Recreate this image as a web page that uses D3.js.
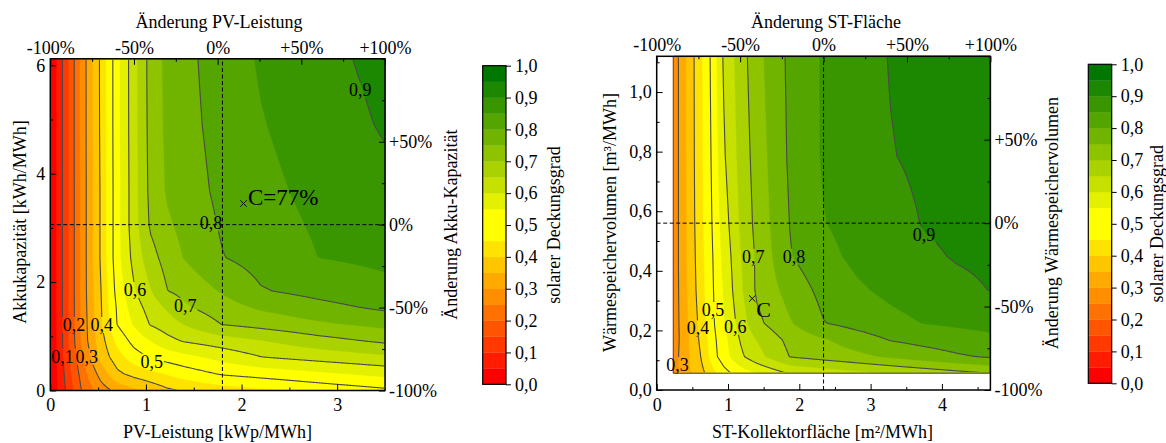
<!DOCTYPE html>
<html lang="de">
<head>
<meta charset="utf-8">
<title>Solarer Deckungsgrad</title>
<script src="https://cdn.jsdelivr.net/npm/d3@7/dist/d3.min.js"></script>
<style>
  html, body { margin: 0; padding: 0; background: #fff; }
  svg text { font-family: "Liberation Serif", "Times New Roman", Times, serif; fill: #000; }
</style>
</head>
<body>
<svg id="chart" width="1166" height="443" viewBox="0 0 1166 443"></svg>
<script>
// ---------- PV power vs. battery capacity ----------
// grid nodes: PV power [kWp/MWh] and battery capacity [kWh/MWh]
const pvNodes   = [0, 0.175, 0.35, 0.525, 0.7, 0.875, 1.05, 1.225, 1.4, 1.8, 2.2, 2.8, 3.5];
const akkuNodes = [0, 0.306, 0.612, 0.918, 1.224, 1.53, 1.836, 2.448, 3.06, 3.672, 4.896, 6.12];
// solar fraction, one row per battery capacity (bottom to top)
const pvDeckung = [
  [0, 0.110, 0.214, 0.274, 0.314, 0.340, 0.365, 0.391, 0.404, 0.425, 0.441, 0.465, 0.490],
  [0, 0.121, 0.233, 0.318, 0.388, 0.416, 0.435, 0.454, 0.473, 0.505, 0.519, 0.540, 0.564],
  [0, 0.131, 0.257, 0.364, 0.429, 0.475, 0.506, 0.520, 0.534, 0.566, 0.598, 0.618, 0.640],
  [0, 0.136, 0.277, 0.377, 0.463, 0.518, 0.551, 0.584, 0.605, 0.627, 0.648, 0.681, 0.710],
  [0, 0.138, 0.278, 0.390, 0.502, 0.555, 0.604, 0.628, 0.652, 0.702, 0.718, 0.742, 0.764],
  [0, 0.138, 0.280, 0.393, 0.507, 0.575, 0.622, 0.657, 0.692, 0.729, 0.757, 0.784, 0.809],
  [0, 0.138, 0.282, 0.396, 0.519, 0.594, 0.647, 0.699, 0.716, 0.755, 0.796, 0.816, 0.837],
  [0, 0.138, 0.282, 0.404, 0.532, 0.617, 0.681, 0.722, 0.752, 0.798, 0.819, 0.850, 0.860],
  [0, 0.138, 0.282, 0.404, 0.532, 0.629, 0.708, 0.742, 0.765, 0.806, 0.830, 0.856, 0.873],
  [0, 0.138, 0.282, 0.404, 0.532, 0.629, 0.715, 0.756, 0.776, 0.812, 0.837, 0.863, 0.886],
  [0, 0.138, 0.283, 0.407, 0.533, 0.631, 0.719, 0.761, 0.783, 0.819, 0.847, 0.874, 0.905],
  [0, 0.138, 0.283, 0.408, 0.533, 0.632, 0.721, 0.763, 0.786, 0.825, 0.855, 0.884, 0.915]
];
const pvLabels = [
  {v: 0.1, x: 0.128, y: 0.624}, {v: 0.2, x: 0.248, y: 1.21}, {v: 0.3, x: 0.381, y: 0.624},
  {v: 0.4, x: 0.537, y: 1.21},  {v: 0.5, x: 1.06, y: 0.53},  {v: 0.6, x: 0.887, y: 1.855},
  {v: 0.7, x: 1.41, y: 1.56},   {v: 0.8, x: 1.68, y: 3.085}, {v: 0.9, x: 3.24, y: 5.54}
];
const pvReference = {x: 1.8, y: 3.06};
const pvCase = {x: 2.02, y: 3.45, text: "C=77%"};

// ---------- collector area vs. storage volume ----------
const stNodes  = [0.234, 0.351, 0.468, 0.585, 0.702, 0.819, 0.936, 1.17, 1.404, 1.872, 2.34, 2.808, 3.276, 3.744, 4.212, 4.68];
const volNodes = [0.056, 0.112, 0.168, 0.224, 0.336, 0.448, 0.56, 0.784, 1.12];
const stDeckung = [
  [0.27, 0.318, 0.347, 0.376, 0.407, 0.443, 0.480, 0.522, 0.552, 0.604, 0.620, 0.636, 0.652, 0.668, 0.684, 0.700],
  [0.27, 0.318, 0.352, 0.387, 0.434, 0.490, 0.526, 0.589, 0.632, 0.702, 0.720, 0.738, 0.757, 0.775, 0.793, 0.806],
  [0.27, 0.313, 0.355, 0.398, 0.447, 0.495, 0.532, 0.602, 0.651, 0.715, 0.745, 0.775, 0.802, 0.816, 0.828, 0.839],
  [0.27, 0.315, 0.360, 0.404, 0.454, 0.504, 0.543, 0.620, 0.687, 0.746, 0.798, 0.818, 0.836, 0.851, 0.858, 0.864],
  [0.27, 0.318, 0.366, 0.414, 0.462, 0.509, 0.553, 0.639, 0.708, 0.770, 0.815, 0.843, 0.861, 0.876, 0.890, 0.901],
  [0.27, 0.320, 0.370, 0.418, 0.465, 0.513, 0.563, 0.645, 0.709, 0.797, 0.836, 0.861, 0.877, 0.893, 0.903, 0.908],
  [0.27, 0.320, 0.372, 0.422, 0.469, 0.519, 0.574, 0.655, 0.716, 0.802, 0.848, 0.868, 0.885, 0.902, 0.909, 0.915],
  [0.27, 0.320, 0.374, 0.425, 0.472, 0.527, 0.592, 0.665, 0.723, 0.809, 0.855, 0.877, 0.898, 0.908, 0.917, 0.925],
  [0.27, 0.320, 0.375, 0.427, 0.475, 0.537, 0.605, 0.674, 0.734, 0.812, 0.855, 0.881, 0.902, 0.913, 0.922, 0.930]
];
const stLabels = [
  {v: 0.3, x: 0.29, y: 0.084},  {v: 0.4, x: 0.58, y: 0.207},  {v: 0.5, x: 0.79, y: 0.268},
  {v: 0.6, x: 1.10, y: 0.212},  {v: 0.7, x: 1.355, y: 0.447}, {v: 0.8, x: 1.925, y: 0.447},
  {v: 0.9, x: 3.749, y: 0.52}
];
const stReference = {x: 2.34, y: 0.56};
const stCase = {x: 1.34, y: 0.307, text: "C"};

// ---------- shared scale settings ----------
const lineLevels = [0.1, 0.2, 0.3, 0.4, 0.5, 0.6, 0.7, 0.8, 0.9];
const colorbarTicks = [0, 0.1, 0.2, 0.3, 0.4, 0.5, 0.6, 0.7, 0.8, 0.9, 1.0];
const pctTicks = [-100, -50, 0, 50, 100];
const pctMinor = [-75, -25, 25, 75];

const bandCount = 20;
const bandStep = 1 / bandCount;
// red -> yellow over the lower half, yellow -> dark green over the upper half
const bandColors = d3.range(bandCount).map(i => i < 10
  ? d3.rgb(255, Math.round(255 * i / 9), 0).formatHex()
  : d3.rgb(Math.round(255 * (19 - i) / 9), Math.round(120 + 135 * (19 - i) / 9), 0).formatHex());

const de = d3.formatLocale({decimal: ",", thousands: ".", grouping: [3], currency: ["", " €"]});
const fmt1 = de.format(".1f");
const fmtInt = de.format("d");
const fmtPct = d => (d > 0 ? "+" : "") + d + "%";

const svg = d3.select("#chart");
const defs = svg.append("defs");
const FONT = 18;

function bilinear(xs, ys, grid, x, y) {
  const i = Math.max(0, Math.min(xs.length - 2, d3.bisectRight(xs, x) - 1));
  const j = Math.max(0, Math.min(ys.length - 2, d3.bisectRight(ys, y) - 1));
  const tx = Math.max(0, Math.min(1, (x - xs[i]) / (xs[i + 1] - xs[i])));
  const ty = Math.max(0, Math.min(1, (y - ys[j]) / (ys[j + 1] - ys[j])));
  const a = grid[j][i], b = grid[j][i + 1], c = grid[j + 1][i], d = grid[j + 1][i + 1];
  return a * (1 - tx) * (1 - ty) + b * tx * (1 - ty) + c * (1 - tx) * ty + d * tx * ty;
}

function styleAxis(g) {
  g.attr("font-family", null).attr("font-size", null);
  g.select(".domain").remove();
  g.selectAll(".tick line").attr("stroke", "#000").attr("stroke-width", 1);
  g.selectAll(".tick text").attr("font-size", FONT).attr("fill", "#000");
}

function drawPanel(P) {
  const x = d3.scaleLinear().domain(P.xDomain).range(P.xRange);
  const y = d3.scaleLinear().domain(P.yDomain).range(P.yRange);
  const xPct = d3.scaleLinear().domain([-100, 100]).range(P.xRange);
  const yPct = d3.scaleLinear().domain([-100, 100]).range(P.yRange);

  // data region in pixels
  const dx0 = x(P.xs[0]), dx1 = x(P.xs[P.xs.length - 1]);
  const dyTop = y(P.ys[P.ys.length - 1]), dyBot = y(P.ys[0]);
  const nx = Math.round(dx1 - dx0), ny = Math.round(dyBot - dyTop);
  const sx = (dx1 - dx0) / nx, sy = (dyBot - dyTop) / ny;

  const values = new Float64Array(nx * ny);
  for (let j = 0; j < ny; j++) {
    const yy = y.invert(dyTop + (j + 0.5) * sy);
    for (let i = 0; i < nx; i++) {
      const xx = x.invert(dx0 + (i + 0.5) * sx);
      values[j * nx + i] = bilinear(P.xs, P.ys, P.grid, xx, yy);
    }
  }
  const contours = d3.contours().size([nx, ny]);
  const proj = d3.geoTransform({
    point(px, py) { this.stream.point(dx0 + px * sx, dyTop + py * sy); }
  });
  const path = d3.geoPath(proj);

  const g = svg.append("g");

  // filled bands
  const fills = g.append("g");
  fills.append("rect")
    .attr("x", dx0).attr("y", dyTop).attr("width", dx1 - dx0).attr("height", dyBot - dyTop)
    .attr("fill", bandColors[0]);
  for (let k = 1; k < bandCount; k++) {
    const t = +(k * bandStep).toFixed(2);
    fills.append("path")
      .attr("d", path(contours.contour(values, t)))
      .attr("fill", bandColors[k])
      .attr("stroke", bandColors[k]).attr("stroke-width", 0.3);
  }

  // contour lines, clipped slightly inside the data region so the region border is not stroked
  defs.append("clipPath").attr("id", P.id + "-clip")
    .append("rect")
    .attr("x", dx0 + 1).attr("y", dyTop + 1)
    .attr("width", dx1 - dx0 - 2).attr("height", dyBot - dyTop - 2);
  const mask = defs.append("mask").attr("id", P.id + "-mask")
    .attr("maskUnits", "userSpaceOnUse")
    .attr("x", 0).attr("y", 0).attr("width", 1166).attr("height", 443);
  mask.append("rect").attr("x", 0).attr("y", 0).attr("width", 1166).attr("height", 443).attr("fill", "#fff");

  const lines = g.append("g").attr("clip-path", `url(#${P.id}-clip)`)
    .append("g").attr("mask", `url(#${P.id}-mask)`);
  lineLevels.forEach(t => {
    lines.append("path")
      .attr("d", path(contours.contour(values, t)))
      .attr("fill", "none")
      .attr("stroke", "#4a4a4a")
      .attr("stroke-width", 1.1)
      .attr("stroke-linejoin", "round");
  });

  if (P.edgeLines) {
    g.append("path")
      .attr("d", `M${dx0},${dyTop}V${dyBot}H${dx1}`)
      .attr("fill", "none").attr("stroke", "#5a5a5a").attr("stroke-width", 1.1);
  }

  // contour labels
  const labelG = g.append("g");
  P.labels.forEach(L => {
    const t = labelG.append("text")
      .attr("x", x(L.x)).attr("y", y(L.y))
      .attr("text-anchor", "middle").attr("dominant-baseline", "central")
      .attr("font-size", FONT)
      .text(fmt1(L.v));
    const b = t.node().getBBox();
    mask.append("rect")
      .attr("x", b.x - 1).attr("y", b.y + 2).attr("width", b.width + 2).attr("height", b.height - 4)
      .attr("fill", "#000");
  });

  // reference dashed lines
  const [xl, xr] = P.xRange, [yb, yt] = P.yRange;
  g.append("line")
    .attr("x1", x(P.ref.x)).attr("x2", x(P.ref.x)).attr("y1", yb).attr("y2", yt)
    .attr("stroke", "#000").attr("stroke-width", 1).attr("stroke-dasharray", "4,2.5");
  g.append("line")
    .attr("x1", xl).attr("x2", xr).attr("y1", y(P.ref.y)).attr("y2", y(P.ref.y))
    .attr("stroke", "#000").attr("stroke-width", 1).attr("stroke-dasharray", "4,2.5");

  // case marker
  const cx = x(P.mark.x), cy = y(P.mark.y), r = 3.2;
  g.append("path")
    .attr("d", `M${cx - r},${cy - r}L${cx + r},${cy + r}M${cx - r},${cy + r}L${cx + r},${cy - r}`)
    .attr("stroke", "#000").attr("stroke-width", 1);
  g.append("text")
    .attr("x", cx + P.markDx).attr("y", cy + P.markDy)
    .attr("font-size", P.markSize)
    .text(P.mark.text);

  // axes (ticks point inwards)
  const bottom = g.append("g").attr("transform", `translate(0,${yb})`)
    .call(d3.axisBottom(x).tickValues(P.xTicks).tickFormat(fmtInt).tickSize(-6).tickPadding(8));
  styleAxis(bottom);
  g.append("g").attr("transform", `translate(0,${yb})`)
    .call(d3.axisBottom(x).tickValues(P.xMinor).tickFormat("").tickSize(-3)).call(styleAxis);
  const left = g.append("g").attr("transform", `translate(${xl},0)`)
    .call(d3.axisLeft(y).tickValues(P.yTicks).tickFormat(P.yFormat).tickSize(-6).tickPadding(5));
  styleAxis(left);
  g.append("g").attr("transform", `translate(${xl},0)`)
    .call(d3.axisLeft(y).tickValues(P.yMinor).tickFormat("").tickSize(-3)).call(styleAxis);
  const top = g.append("g").attr("transform", `translate(0,${yt})`)
    .call(d3.axisTop(xPct).tickValues(pctTicks).tickFormat(fmtPct).tickSize(-6).tickPadding(5));
  styleAxis(top);
  g.append("g").attr("transform", `translate(0,${yt})`)
    .call(d3.axisTop(xPct).tickValues(pctMinor).tickFormat("").tickSize(-3)).call(styleAxis);
  const right = g.append("g").attr("transform", `translate(${xr},0)`)
    .call(d3.axisRight(yPct).tickValues(pctTicks.slice(0, 4)).tickFormat(fmtPct).tickSize(-6).tickPadding(4));
  styleAxis(right);
  g.append("g").attr("transform", `translate(${xr},0)`)
    .call(d3.axisRight(yPct).tickValues(pctMinor.concat([100])).tickFormat("").tickSize(-3)).call(styleAxis);

  // frame
  g.append("rect")
    .attr("x", xl).attr("y", yt).attr("width", xr - xl).attr("height", yb - yt)
    .attr("fill", "none").attr("stroke", "#000").attr("stroke-width", 1.5);

  // axis titles
  const midY = (yb + yt) / 2;
  g.append("text").attr("x", P.topTitleX).attr("y", 28).attr("text-anchor", "middle")
    .attr("font-size", FONT).text(P.titles.top);
  g.append("text").attr("x", P.bottomTitleX).attr("y", 438).attr("text-anchor", "middle")
    .attr("font-size", FONT).text(P.titles.bottom);
  g.append("text")
    .attr("transform", `translate(${P.leftTitleX},${P.leftTitleY}) rotate(-90)`)
    .attr("text-anchor", "middle").attr("dominant-baseline", "central")
    .attr("font-size", FONT).text(P.titles.left);
  g.append("text")
    .attr("transform", `translate(${P.rightTitleX},${midY}) rotate(-90)`)
    .attr("text-anchor", "middle").attr("dominant-baseline", "central")
    .attr("font-size", FONT).text(P.titles.right);

  // colour bar
  const C = P.colorbar;
  const cb = d3.scaleLinear().domain([0, 1]).range([C.bottom, C.top]);
  const cbg = svg.append("g");
  d3.range(bandCount).forEach(k => {
    cbg.append("rect")
      .attr("x", C.x).attr("width", C.w)
      .attr("y", cb((k + 1) * bandStep)).attr("height", cb(k * bandStep) - cb((k + 1) * bandStep) + 0.3)
      .attr("fill", bandColors[k]);
  });
  cbg.append("rect")
    .attr("x", C.x).attr("y", C.top).attr("width", C.w).attr("height", C.bottom - C.top)
    .attr("fill", "none").attr("stroke", "#000").attr("stroke-width", 1.2);
  const cbAxis = cbg.append("g").attr("transform", `translate(${C.x + C.w},0)`)
    .call(d3.axisRight(cb).tickValues(colorbarTicks).tickFormat(fmt1).tickSize(5).tickPadding(4));
  styleAxis(cbAxis);
  cbg.append("text")
    .attr("transform", `translate(${C.titleX},${(C.top + C.bottom) / 2}) rotate(-90)`)
    .attr("text-anchor", "middle").attr("dominant-baseline", "central")
    .attr("font-size", FONT).text("solarer Deckungsgrad");
}

drawPanel({
  id: "pv",
  xs: pvNodes, ys: akkuNodes, grid: pvDeckung, labels: pvLabels,
  xDomain: [0, 3.5], yDomain: [0, 6.12],
  xRange: [50.3, 385], yRange: [390.5, 58.8],
  xTicks: [0, 1, 2, 3], xMinor: [0.5, 1.5, 2.5],
  yTicks: [0, 2, 4, 6], yMinor: [1, 3, 5], yFormat: fmtInt,
  ref: pvReference, mark: pvCase, markDx: 4.5, markDy: 1.5, markSize: 23,
  titles: {
    top: "Änderung PV-Leistung", bottom: "PV-Leistung [kWp/MWh]",
    left: "Akkukapazität [kWh/MWh]", right: "Änderung Akku-Kapazität"
  },
  topTitleX: 219, bottomTitleX: 217.5, leftTitleX: 20, leftTitleY: 222, rightTitleX: 451,
  colorbar: {x: 482.7, w: 23.3, top: 65.7, bottom: 384.3, titleX: 554}
});

drawPanel({
  id: "st",
  xs: stNodes, ys: volNodes, grid: stDeckung, labels: stLabels, edgeLines: true,
  xDomain: [0, 4.68], yDomain: [0, 1.12],
  xRange: [656.7, 990.4], yRange: [390, 56.3],
  xTicks: [0, 1, 2, 3, 4], xMinor: [0.5, 1.5, 2.5, 3.5, 4.5],
  yTicks: [0, 0.2, 0.4, 0.6, 0.8, 1.0], yMinor: [0.1, 0.3, 0.5, 0.7, 0.9, 1.1], yFormat: fmt1,
  ref: stReference, mark: stCase, markDx: 4, markDy: 18, markSize: 22,
  titles: {
    top: "Änderung ST-Fläche", bottom: "ST-Kollektorfläche [m²/MWh]",
    left: "Wärmespeichervolumen [m³/MWh]", right: "Änderung Wärmespeichervolumen"
  },
  topTitleX: 826, bottomTitleX: 822.5, leftTitleX: 610, leftTitleY: 222.5, rightTitleX: 1052,
  colorbar: {x: 1088.3, w: 23.4, top: 64.3, bottom: 383.3, titleX: 1157}
});
</script>
</body>
</html>
